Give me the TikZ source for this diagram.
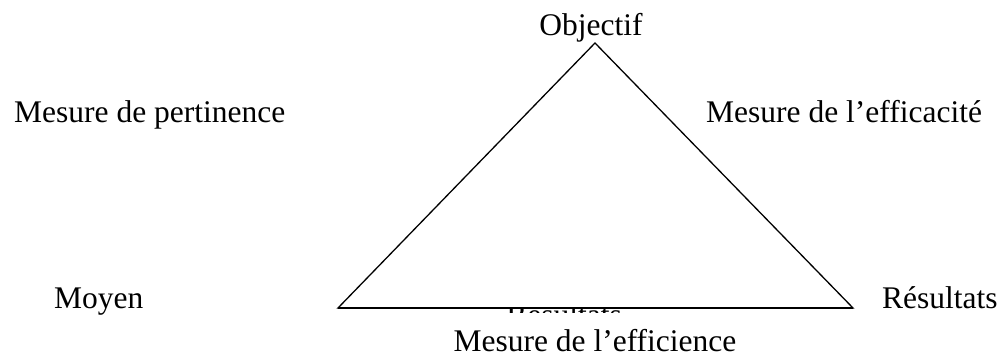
\documentclass[tikz,border=0pt]{standalone}
\usepackage{fontspec}
\setmainfont{Liberation Serif}
\begin{document}
\begin{tikzpicture}[x=1pt,y=-1pt,
  lbl/.style={inner sep=0pt,font=\fontsize{31.5}{38}\selectfont},
  tri/.style={line width=1.3pt,line join=miter}]
\useasboundingbox (0,0) rectangle (998,356);
\coordinate (apex) at (595,43);
\coordinate (left) at (338,308);
\coordinate (right) at (853,308);
% partially hidden label under the base
\begin{scope}
\clip (480,309.5) rectangle (650,312.5);
\node[lbl,anchor=base] (hidden) at (564,325) {Résultats};
\end{scope}
\draw[tri] (apex) -- (right) -- (left) -- cycle;
\draw[line width=1.9pt] (left) -- (right);
\node[lbl,anchor=base] (obj) at (591,35) {Objectif};
\node[lbl,anchor=base west] (pert) at (14,122) {Mesure de pertinence};
\node[lbl,anchor=base west] (effic) at (706,122) {Mesure de l’efficacité};
\node[lbl,anchor=base west] (moy) at (54,308) {Moyen};
\node[lbl,anchor=base west] (res) at (882,308) {Résultats};
\node[lbl,anchor=base] (eff) at (595,351) {Mesure de l’efficience};
\end{tikzpicture}
\end{document}
